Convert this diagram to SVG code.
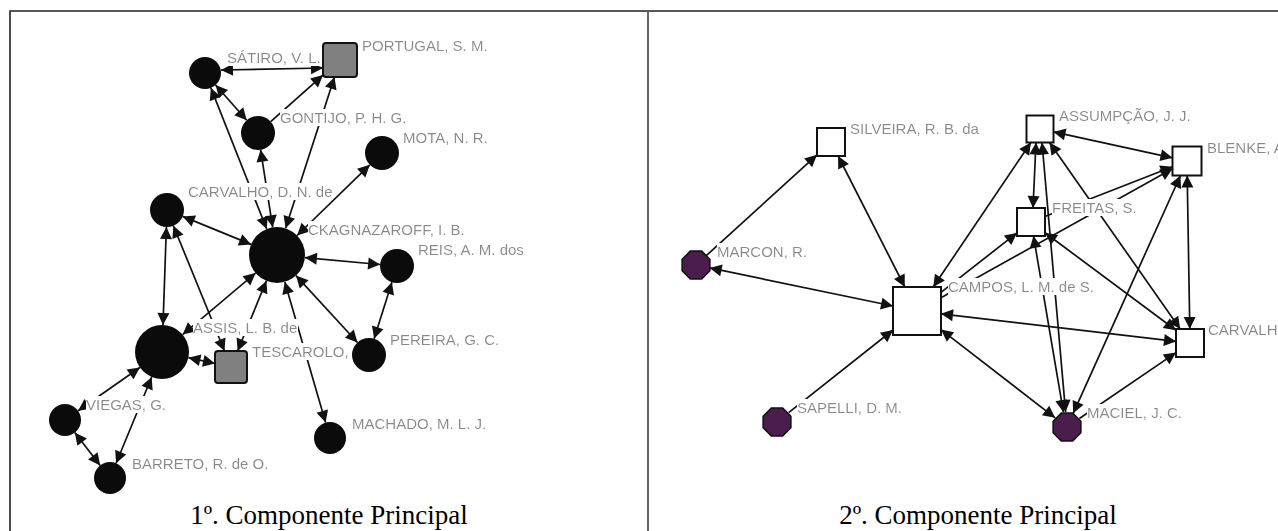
<svg xmlns="http://www.w3.org/2000/svg" xmlns:xlink="http://www.w3.org/1999/xlink" width="1278" height="531" viewBox="0 0 1278 531">
<style>
.frame{stroke:#222;stroke-width:1.6;fill:none}
.div{stroke:#666;stroke-width:2;fill:none}
.c line{stroke:#111;stroke-width:1.7}
.e{marker-end:url(#ah)}
.b{marker-start:url(#ah);marker-end:url(#ah)}
.lbl{font-family:"Liberation Sans",Arial,sans-serif;font-size:15px;fill:#88888c;filter:url(#bg)}
.blk{fill:#0b0b0b}
.gsq{fill:#808080;stroke:#111;stroke-width:2}
.wsq{fill:#fff;stroke:#111;stroke-width:2}
.pur{fill:#4a1d4c;stroke:#111;stroke-width:1.5}
.cap{font-family:"Liberation Serif","Times New Roman",serif;font-size:27px;fill:#000;text-anchor:middle}
</style>
<defs>
<marker id="ah" markerUnits="userSpaceOnUse" markerWidth="13" markerHeight="12" refX="12" refY="6" orient="auto-start-reverse" overflow="visible">
<path d="M0,0 L12,6 L0,12 Z" fill="#111"/>
</marker>
<filter id="bg" x="0" y="0" width="1" height="1">
<feFlood flood-color="#fff"/>
<feComposite in="SourceGraphic" operator="over"/>
</filter>
<polygon id="oct" points="5.7,-13.9 13.9,-5.7 13.9,5.7 5.7,13.9 -5.7,13.9 -13.9,5.7 -13.9,-5.7 -5.7,-13.9"/>
</defs>
<rect width="1278" height="531" fill="#fff"/>
<path class="frame" d="M10,531 V11 H1278"/>
<path class="div" d="M648,11 V531"/>

<g id="connectors" class="c">
<line class="b" x1="221" y1="70" x2="323" y2="68"/>
<line class="b" x1="215.6" y1="85" x2="246.7" y2="120.2"/>
<line class="b" x1="266.7" y1="229" x2="210.9" y2="87.9"/>
<line class="b" x1="272.7" y1="227.3" x2="260.6" y2="149.8"/>
<line class="b" x1="285.6" y1="228.3" x2="334.5" y2="77"/>
<line class="e" x1="270.7" y1="121.7" x2="323" y2="75.1"/>
<line class="b" x1="297.1" y1="235.5" x2="369.8" y2="164.8"/>
<line class="b" x1="251.1" y1="244.4" x2="182.7" y2="216.4"/>
<line class="b" x1="166.4" y1="227" x2="163" y2="325"/>
<line class="b" x1="224.5" y1="351" x2="173.4" y2="225.7"/>
<line class="b" x1="182.6" y1="334.6" x2="255.6" y2="273.1"/>
<line class="b" x1="237.6" y1="351" x2="266.4" y2="280.9"/>
<line class="b" x1="304.9" y1="257.6" x2="380.1" y2="264.5"/>
<line class="b" x1="296" y1="275.6" x2="357.5" y2="342.5"/>
<line class="b" x1="391.9" y1="282.2" x2="374.1" y2="338.8"/>
<line class="b" x1="284.8" y1="281.9" x2="325.6" y2="422.6"/>
<line class="b" x1="188.4" y1="357.7" x2="215" y2="363.5"/>
<line class="b" x1="78.1" y1="410.8" x2="139.9" y2="367.5"/>
<line class="b" x1="151.7" y1="377" x2="116.1" y2="463.2"/>
<line class="b" x1="74.8" y1="432.6" x2="100.2" y2="465.4"/>

<line class="e" x1="706.3" y1="255.6" x2="817" y2="154.8"/>
<line class="b" x1="838.1" y1="156" x2="904.8" y2="287"/>
<line class="b" x1="893" y1="306" x2="709.7" y2="267.9"/>
<line class="e" x1="788.7" y1="412.7" x2="893" y2="330"/>
<line class="b" x1="933.2" y1="287" x2="1030.9" y2="142.5"/>
<line class="b" x1="1036" y1="142.5" x2="1033" y2="208"/>
<line class="b" x1="1042" y1="142.5" x2="1065.6" y2="412.1"/>
<line class="b" x1="1033.5" y1="236" x2="1063.4" y2="412.2"/>
<line class="e" x1="941" y1="292.3" x2="1017" y2="232.9"/>
<line class="e" x1="941" y1="297.7" x2="1172.5" y2="168.8"/>
<line class="e" x1="1045" y1="216.5" x2="1172.5" y2="166.7"/>
<line class="b" x1="1053.5" y1="131.9" x2="1172.5" y2="157.8"/>
<line class="b" x1="1187.2" y1="175.5" x2="1189.8" y2="329"/>
<line class="b" x1="1073.2" y1="413.3" x2="1180.5" y2="175.5"/>
<line class="b" x1="1049.5" y1="142.5" x2="1180.2" y2="329"/>
<line class="b" x1="1045" y1="232.7" x2="1176" y2="330.3"/>
<line class="b" x1="1176" y1="341.4" x2="941" y2="313.8"/>
<line class="b" x1="941" y1="329.6" x2="1055.1" y2="417.8"/>
<line class="e" x1="1079.4" y1="418.5" x2="1176" y2="352.6"/>
</g>

<g id="n-satiro"><text class="lbl" x="227" y="63">SÁTIRO, V. L.</text><circle class="blk" cx="205" cy="73" r="16"/></g>
<g id="n-portugal"><text class="lbl" x="362" y="51">PORTUGAL, S. M.</text><rect class="gsq" x="323" y="43" width="34" height="34" rx="3"/></g>
<g id="n-gontijo"><text class="lbl" x="280" y="123">GONTIJO, P. H. G.</text><circle class="blk" cx="258" cy="133" r="17"/></g>
<g id="n-mota"><text class="lbl" x="403" y="143">MOTA, N. R.</text><circle class="blk" cx="382" cy="153" r="17"/></g>
<g id="n-carvalho1"><text class="lbl" x="188" y="197">CARVALHO, D. N. de</text><circle class="blk" cx="167" cy="210" r="17"/></g>
<g id="n-ckagnazaroff"><text class="lbl" x="308" y="235">CKAGNAZAROFF, I. B.</text><circle class="blk" cx="277" cy="255" r="28"/></g>
<g id="n-reis"><text class="lbl" x="418" y="255">REIS, A. M. dos</text><circle class="blk" cx="397" cy="266" r="17"/></g>
<g id="n-pereira"><text class="lbl" x="390" y="345">PEREIRA, G. C.</text><circle class="blk" cx="369" cy="355" r="17"/></g>
<g id="n-assis"><text class="lbl" x="193" y="333">ASSIS, L. B. de</text><circle class="blk" cx="162" cy="352" r="27"/></g>
<g id="n-tescarolo"><text class="lbl" x="252" y="357">TESCAROLO,</text><rect class="gsq" x="215" y="351" width="32" height="32" rx="3"/></g>
<g id="n-viegas"><text class="lbl" x="86" y="410">VIEGAS, G.</text><circle class="blk" cx="65" cy="420" r="16"/></g>
<g id="n-barreto"><text class="lbl" x="132" y="469">BARRETO, R. de O.</text><circle class="blk" cx="110" cy="478" r="16"/></g>
<g id="n-machado"><text class="lbl" x="352" y="429">MACHADO, M. L. J.</text><circle class="blk" cx="330" cy="438" r="16"/></g>

<g id="n-silveira"><text class="lbl" x="850" y="134">SILVEIRA, R. B. da</text><rect class="wsq" x="817" y="128" width="28" height="28"/></g>
<g id="n-marcon"><text class="lbl" x="717" y="257">MARCON, R.</text><use xlink:href="#oct" class="pur" x="696" y="265"/></g>
<g id="n-campos"><text class="lbl" x="948" y="292">CAMPOS, L. M. de S.</text><rect class="wsq" x="893" y="287" width="48" height="48"/></g>
<g id="n-assumpcao"><text class="lbl" x="1059" y="121">ASSUMPÇÃO, J. J.</text><rect class="wsq" x="1026.5" y="115.5" width="27" height="27"/></g>
<g id="n-blenke"><text class="lbl" x="1207" y="153">BLENKE, A</text><rect class="wsq" x="1172.5" y="146.5" width="29" height="29"/></g>
<g id="n-freitas"><text class="lbl" x="1052" y="213">FREITAS, S.</text><rect class="wsq" x="1017" y="208" width="28" height="28"/></g>
<g id="n-carvalho2"><text class="lbl" x="1208" y="335">CARVALHO</text><rect class="wsq" x="1176" y="329" width="28" height="28"/></g>
<g id="n-maciel"><text class="lbl" x="1087" y="418">MACIEL, J. C.</text><use xlink:href="#oct" class="pur" x="1067" y="427"/></g>
<g id="n-sapelli"><text class="lbl" x="797" y="413">SAPELLI, D. M.</text><use xlink:href="#oct" class="pur" x="777" y="422"/></g>

<text class="cap" x="329" y="524">1º. Componente Principal</text>
<text class="cap" x="978" y="524">2º. Componente Principal</text>
</svg>
